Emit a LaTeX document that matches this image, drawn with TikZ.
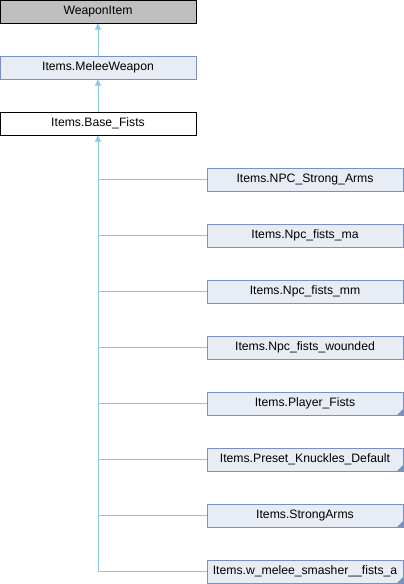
\documentclass[tikz,border=0pt]{standalone}
\usepackage{fontspec}
\setmainfont{Liberation Sans}
\usetikzlibrary{arrows.meta}

\definecolor{boxfill}{RGB}{232,236,245}
\definecolor{boxline}{RGB}{120,144,196}
\definecolor{linkline}{RGB}{140,198,236}
\definecolor{basefill}{RGB}{191,191,191}

\tikzset{
  cls/.style={draw=boxline,fill=boxfill,line width=1pt,minimum width=196pt,minimum height=23pt,inner sep=0pt,font=\fontsize{12.2}{14}\selectfont},
  extcls/.style={cls,draw=black,fill=basefill},
  curcls/.style={cls,draw=black,fill=white},
  link/.style={draw=linkline,line width=1pt},
  inh/.style={link,-{Triangle[length=6pt,width=6pt]}},
  more/.style={path picture={\fill[boxline] (path picture bounding box.south east) -- ++(-6pt,0) -- ++(6pt,6pt) -- cycle;}}
}

\begin{document}
\begin{tikzpicture}[x=1pt,y=-1pt]
\useasboundingbox (0,0) rectangle (404,584);

\node[extcls] (v1) at (98,11.5) {WeaponItem};
\node[cls] (v2) at (98,67.5) {Items.MeleeWeapon};
\node[curcls] (v3) at (98,123.5) {Items.Base\_Fists};

\draw[inh] (v2) -- (v1);
\draw[inh] (v3) -- (v2);

\node[cls] (v4) at (305,179.5) {Items.NPC\_Strong\_Arms};
\node[cls] (v5) at (305,235.5) {Items.Npc\_fists\_ma};
\node[cls] (v6) at (305,291.5) {Items.Npc\_fists\_mm};
\node[cls] (v7) at (305,347.5) {Items.Npc\_fists\_wounded};
\node[cls,more] (v8) at (305,403.5) {Items.Player\_Fists};
\node[cls,more] (v9) at (305,459.5) {Items.Preset\_Knuckles\_Default};
\node[cls,more] (v10) at (305,515.5) {Items.StrongArms};
\node[cls,more] (v11) at (305,571.5) {Items.w\_melee\_smasher\_\_fists\_a};

\coordinate (v12) at (98,571.5);
\draw[inh] (v12) -- (v3);
\foreach \c in {v4,v5,v6,v7,v8,v9,v10,v11}
  \draw[link] (\c.west) -- (v3.south |- \c.west);
\end{tikzpicture}
\end{document}
